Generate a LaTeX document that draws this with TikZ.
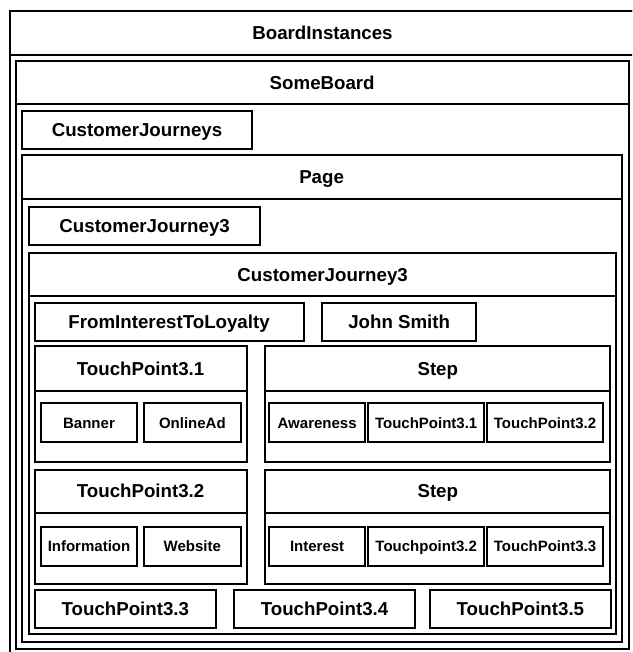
\documentclass[tikz,border=0pt]{standalone}
\usepackage{fontspec}
\setmainfont{Liberation Sans}
\tikzset{
  frame/.style={draw=black, line width=2pt, inner sep=0pt, outer sep=0pt},
  big/.style={frame, font=\bfseries\fontsize{18.7}{21}\selectfont, text height=13.4pt, text depth=0pt},
  small/.style={frame, font=\bfseries\fontsize{15}{17}\selectfont, text height=10.7pt, text depth=0pt},
}
% \cell{style}{name}{left}{top}{right}{bottom}{text}
\newcommand\cell[7]{%
  \pgfmathsetmacro\cellw{#5-#3}%
  \pgfmathsetmacro\cellh{#6-#4}%
  \node[#1, minimum width=\cellw pt, minimum height=\cellh pt] (#2) at ({(#3+#5)/2},{(#4+#6)/2}) {#7};%
}
\begin{document}
\begin{tikzpicture}[x=1pt, y=-1pt]
\useasboundingbox (0,0) rectangle (632,652);
\fill[white] (0,0) rectangle (632,652);
\clip (0,0) rectangle (632,652);

% board instances (runs past the page on the right and bottom)
\cell{frame}{board}{10}{11}{635}{657}{}
\cell{big}{boardhead}{10}{11}{635}{55}{BoardInstances}

% SomeBoard
\cell{frame}{some}{15.7}{61}{628.7}{649.3}{}
\cell{big}{somehead}{15.7}{61}{628.7}{104}{SomeBoard}
\cell{big}{journeys}{21.7}{111}{252.3}{149}{CustomerJourneys}

% Page
\cell{frame}{page}{21.7}{155}{621.5}{641.7}{}
\cell{big}{pagehead}{21.7}{155}{621.5}{199}{Page}
\cell{big}{cjref}{29.3}{206.7}{260}{245}{CustomerJourney3}

% CustomerJourney3
\cell{frame}{cj}{29.3}{253.3}{616}{634.3}{}
\cell{big}{cjhead}{29.3}{253.3}{616}{296}{CustomerJourney3}
\cell{big}{loyal}{34.7}{302.7}{303.5}{341}{FromInterestToLoyalty}
\cell{big}{john}{322}{302.7}{476.3}{341}{John Smith}

% TouchPoint3.1
\cell{frame}{tpa}{34.7}{346.3}{246.5}{461.7}{}
\cell{big}{tpahead}{34.7}{346.3}{246.5}{390.5}{TouchPoint3.1}
\cell{small}{banner}{40.7}{403.3}{137.3}{442.3}{Banner}
\cell{small}{online}{144}{403.3}{240.7}{442.3}{OnlineAd}

% first Step
\cell{frame}{stepa}{265.3}{346.3}{610.3}{461.7}{}
\cell{big}{stepahead}{265.3}{346.3}{610.3}{390.5}{Step}
\cell{small}{aware}{269}{403.3}{365.3}{442.3}{Awareness}
\cell{small}{stepatpa}{368}{403.3}{484.3}{442.3}{TouchPoint3.1}
\cell{small}{stepatpb}{487}{403.3}{603}{442.3}{TouchPoint3.2}

% TouchPoint3.2
\cell{frame}{tpb}{34.7}{469.5}{246.5}{584.3}{}
\cell{big}{tpbhead}{34.7}{469.5}{246.5}{512.7}{TouchPoint3.2}
\cell{small}{info}{40.7}{526.7}{137.3}{565.7}{Information}
\cell{small}{web}{144}{526.7}{240.7}{565.7}{Website}

% second Step
\cell{frame}{stepb}{265.3}{469.5}{610.3}{584.3}{}
\cell{big}{stepbhead}{265.3}{469.5}{610.3}{512.7}{Step}
\cell{small}{interest}{269}{526.7}{365.3}{565.7}{Interest}
\cell{small}{stepbtpb}{368}{526.7}{484.3}{565.7}{Touchpoint3.2}
\cell{small}{stepbtpc}{487}{526.7}{603}{565.7}{TouchPoint3.3}

% bottom row
\cell{big}{tpc}{34.7}{590}{216}{628.3}{TouchPoint3.3}
\cell{big}{tpd}{234.3}{590}{414.7}{628.3}{TouchPoint3.4}
\cell{big}{tpe}{429.7}{590}{611}{628.3}{TouchPoint3.5}
\end{tikzpicture}
\end{document}
